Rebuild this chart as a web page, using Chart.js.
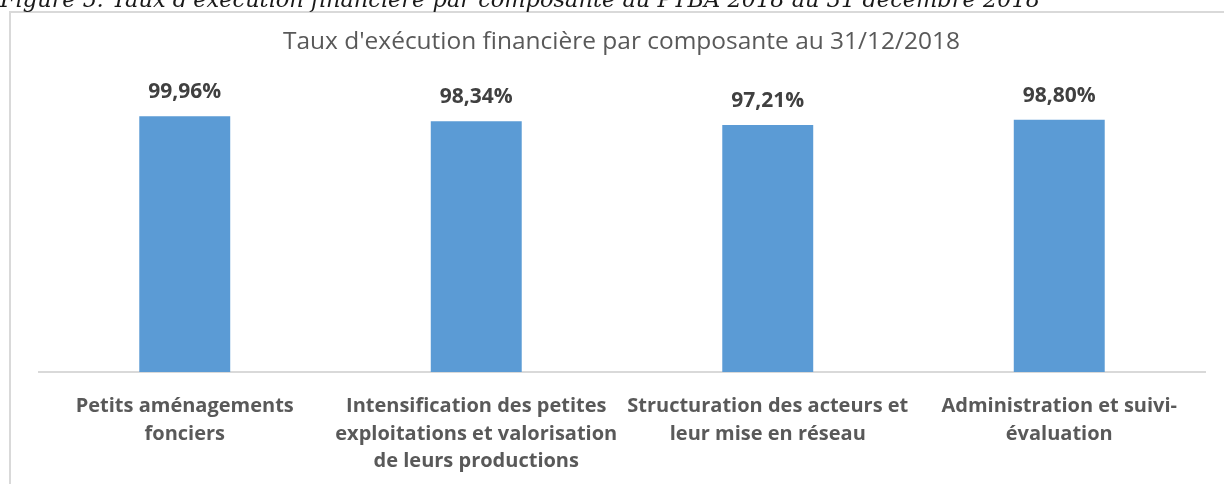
<!DOCTYPE html>
<html><head><meta charset="utf-8">
<script src="https://cdn.jsdelivr.net/npm/chart.js@4.4.0/dist/chart.umd.min.js"></script>
<style>html,body{margin:0;padding:0;background:#fff;overflow:hidden}
#wrap{position:absolute;left:0;top:0;width:1224px;height:484px}
</style></head><body>
<div id="wrap"><canvas id="c" width="1224" height="484"></canvas></div>
<script>
const categories = [
  ["Petits aménagements", "fonciers"],
  ["Intensification des petites", "exploitations et valorisation", "de leurs productions"],
  ["Structuration des acteurs et", "leur mise en réseau"],
  ["Administration et suivi-", "évaluation"]
];
const values = [99.96, 98.34, 97.21, 98.80];
const valueLabels = ["99,96%", "98,34%", "97,21%", "98,80%"];
const chartTitle = "Taux d'exécution financière par composante au 31/12/2018";
const caption = "Figure 5: Taux d'exécution financière par composante au PTBA 2018 au 31 décembre 2018";

function fitFont(ctx, text, style, family, target) {
  ctx.font = style + ' 100px "' + family + '"';
  const w = ctx.measureText(text).width;
  const size = 100 * target / w;
  ctx.font = style + ' ' + size.toFixed(2) + 'px "' + family + '"';
  return size;
}

const deco = {
  id: 'deco',
  beforeDraw(chart) {
    const ctx = chart.ctx;
    ctx.save();
    ctx.fillStyle = '#ffffff';
    ctx.fillRect(0, 0, chart.width, chart.height);
    ctx.strokeStyle = '#d9d9d9';
    ctx.lineWidth = 2;
    ctx.beginPath();
    ctx.moveTo(10, chart.height);
    ctx.lineTo(10, 12);
    ctx.lineTo(chart.width, 12);
    ctx.stroke();
    fitFont(ctx, caption, 'italic', 'DejaVu Serif', 1040);
    ctx.fillStyle = '#1a1a1a';
    ctx.textAlign = 'left';
    ctx.textBaseline = 'alphabetic';
    ctx.fillText(caption, 0, 7);
    fitFont(ctx, chartTitle, 'normal', 'Open Sans', 677);
    ctx.fillStyle = '#595959';
    ctx.textAlign = 'center';
    ctx.fillText(chartTitle, 621.5, 49);
    ctx.restore();
  },
  afterDatasetsDraw(chart) {
    const ctx = chart.ctx;
    const meta = chart.getDatasetMeta(0);
    ctx.save();
    ctx.font = 'bold 21px "Open Sans"';
    ctx.fillStyle = '#404040';
    ctx.textAlign = 'center';
    ctx.textBaseline = 'alphabetic';
    meta.data.forEach((bar, i) => {
      ctx.fillText(valueLabels[i], bar.x, bar.y - 18);
    });
    ctx.restore();
  }
};

function build() {
  new Chart(document.getElementById('c'), {
    type: 'bar',
    data: {
      labels: categories,
      datasets: [{
        data: values,
        backgroundColor: '#5b9bd5',
        borderWidth: 0,
        categoryPercentage: 1,
        barPercentage: 0.312
      }]
    },
    options: {
      responsive: false,
      animation: false,
      layout: { padding: { left: 39, right: 19, top: 84, bottom: 0 } },
      plugins: { legend: { display: false }, tooltip: { enabled: false }, title: { display: false } },
      scales: {
        x: {
          grid: { display: false, drawTicks: false },
          border: { display: true, color: '#d9d9d9', width: 2 },
          ticks: {
            color: '#595959',
            font: { family: 'Open Sans', weight: 'bold', size: 20, lineHeight: 1.375 },
            padding: 21,
            maxRotation: 0,
            minRotation: 0,
            autoSkip: false
          },
          afterFit(scale) { scale.height = 112; }
        },
        y: { display: false, min: 20, max: 110 }
      }
    },
    plugins: [deco]
  });
}
Promise.all([
  document.fonts.load('bold 21px "Open Sans"'),
  document.fonts.load('20px "Open Sans"'),
  document.fonts.load('italic 20px "DejaVu Serif"')
]).then(build, build);
</script>
</body></html>
